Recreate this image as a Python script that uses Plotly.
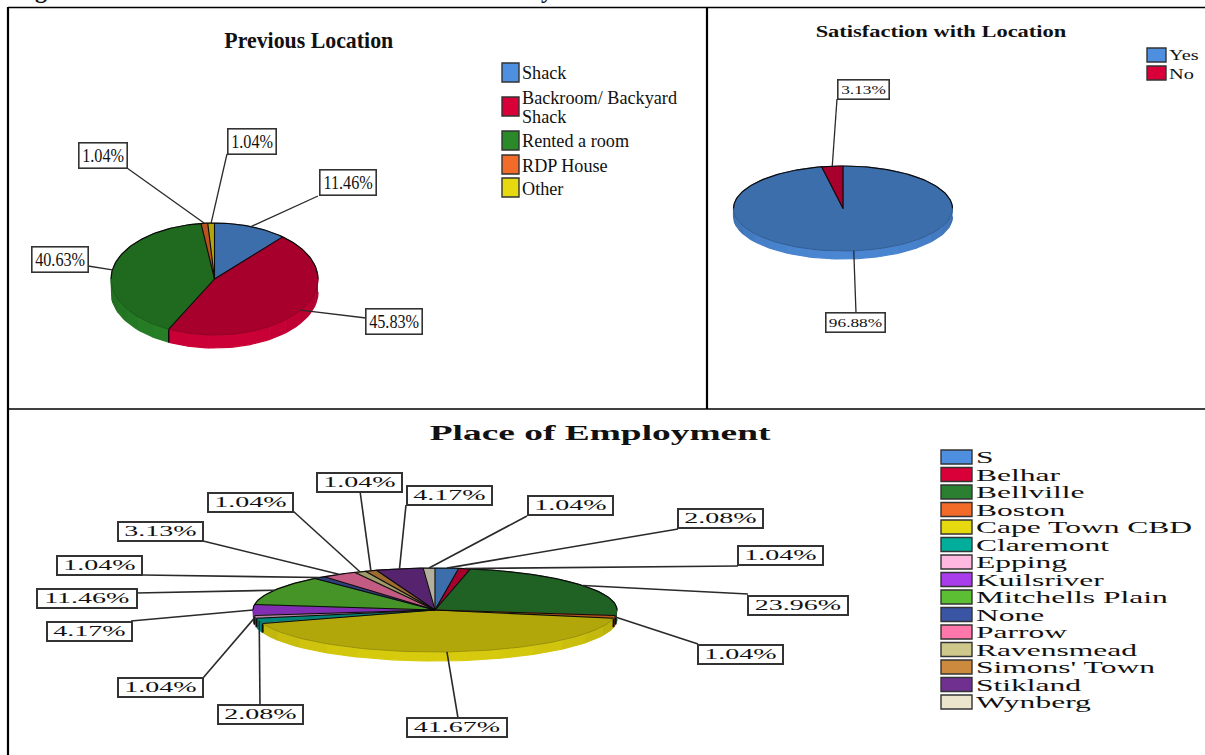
import json
import numpy as np
import plotly.graph_objects as go

# --- survey results -------------------------------------------------------
previous_title = "Previous Location"
previous_names = ["Shack", "Backroom/ Backyard Shack", "Rented a room", "RDP House", "Other"]
previous_values = [11.46, 45.83, 40.63, 1.04, 1.04]
previous_colors = ["#4F8FE0", "#D9003A", "#2A8A2A", "#F26B29", "#E6D90F"]

satisfaction_title = "Satisfaction with Location"
satisfaction_names = ["Yes", "No"]
satisfaction_values = [96.88, 3.13]
satisfaction_colors = ["#4F8FE0", "#D9003A"]

employment_title = "Place of Employment"
employment_names = ["S", "Belhar", "Bellville", "Boston", "Cape Town CBD", "Claremont", "Epping",
                    "Kuilsriver", "Mitchells Plain", "None", "Parrow", "Ravensmead",
                    "Simons' Town", "Stikland", "Wynberg"]
employment_values = [2.08, 1.04, 23.96, 1.04, 41.67, 2.08, 1.04, 4.17, 11.46, 1.04, 3.13,
                     1.04, 1.04, 4.17, 1.04]
employment_colors = ["#4F8FE0", "#D9003A", "#2A8030", "#F26B29", "#E6D90F", "#00AE9B", "#FFB8E0",
                     "#A93DEB", "#5CBF33", "#3B55A5", "#FF77AB", "#CEC98A", "#CC8A3F", "#703090",
                     "#EBE5CE"]

# --- layout of each pie: centre, radii, rim depth ---------------------------
previous_geom = dict(cx=214.5, cy=279, rx=103.5, ry=56, depth=13)
satisfaction_geom = dict(cx=843, cy=208.5, rx=109.5, ry=42.5, depth=8)
employment_geom = dict(cx=435, cy=610, rx=182, ry=42, depth=9)

# label box centres and the point where each leader line meets its box
previous_boxes = [(347.5, 182), (394, 321.5), (60, 259), (102.5, 155.5), (252, 141)]
previous_anchors = [(318, 196), (366, 318), (88, 266), (127, 168), (227, 154)]
satisfaction_boxes = [(855.5, 322.5), (863.5, 89.5)]
satisfaction_anchors = [(856, 313), (837, 99)]
employment_boxes = [(720, 518.5), (780.5, 555), (797.5, 605), (740, 654), (456.5, 727.5),
                    (260, 714), (160, 687.5), (89, 631.5), (86.5, 598), (99.5, 565),
                    (160, 531.5), (250, 502), (359.5, 482), (449.5, 495), (570, 505)]
employment_anchors = [(678, 529), (738, 566), (748, 594), (698, 644), (458, 718), (260, 705),
                      (203, 678), (131, 621), (136, 593), (143, 575), (203, 541), (293, 511),
                      (360, 491), (406, 505), (527, 516)]

fig = go.Figure()
annotations = []
stretches = []


def rgb(hex_color, factor=1.0):
    channels = [int(hex_color[i:i + 2], 16) for i in (1, 3, 5)]
    return "rgb({},{},{})".format(*[min(255, int(c * factor)) for c in channels])


def rim_point(geom, angle, drop=0.0):
    rad = np.radians(angle)
    return geom["cx"] + geom["rx"] * np.sin(rad), geom["cy"] - geom["ry"] * np.cos(rad) + drop


def add_poly(xs, ys, fill, line=None, width=0.6):
    fig.add_trace(go.Scatter(x=xs, y=ys, mode="lines", fill="toself", fillcolor=fill,
                             line=dict(color=line or fill, width=width),
                             hoverinfo="skip", showlegend=False))


def add_line(xs, ys, color="#0c0c0c", width=1.1):
    fig.add_trace(go.Scatter(x=xs, y=ys, mode="lines", line=dict(color=color, width=width),
                             hoverinfo="skip", showlegend=False))


def add_text(x, y, text, size, stretch=1.0, anchor="left", bold=False, **extra):
    annotations.append(dict(
        x=x, y=y, xref="x", yref="y", text=("<b>%s</b>" % text) if bold else text,
        showarrow=False, xanchor=anchor, yanchor=extra.pop("yanchor", "middle"), align=anchor,
        font=dict(family="Liberation Serif", size=size, color="#111111"), **extra))
    stretches.append(stretch)


def draw_pie(values, colors, geom, boxes, anchors, box_widths, box_height, label_size,
             label_stretch, border=1.6, leader=1.3, rim_edge=1.4):
    total = sum(values)
    edges = np.concatenate([[0.0], np.cumsum(values)]) / total * 360.0
    drop = geom["depth"]

    # rim: only the front half of the pie shows, shaded towards the sides
    for value_index, color in enumerate(colors):
        start, end = max(edges[value_index], 90.0), min(edges[value_index + 1], 270.0)
        if end <= start:
            continue
        count = max(1, int(np.ceil((end - start) / 12.0)))
        steps = np.linspace(start, end, count + 1)
        for a0, a1 in zip(steps[:-1], steps[1:]):
            mid = (a0 + a1) / 2.0
            shade = 0.76 + 0.18 * (1.0 - ((mid - 180.0) / 90.0) ** 2)
            arc = np.linspace(a0, a1, 8)
            top = [rim_point(geom, a) for a in arc]
            low = [rim_point(geom, a, drop) for a in arc[::-1]]
            pts = top + low
            add_poly([p[0] for p in pts], [p[1] for p in pts], rgb(color, shade), width=1.2)

    # rim edges between visible slices
    for edge in edges:
        if 90.0 <= edge <= 270.0:
            x0, y0 = rim_point(geom, edge)
            x1, y1 = rim_point(geom, edge, drop)
            add_line([x0, x1], [y0, y1], width=rim_edge)

    # top face
    for value_index, color in enumerate(colors):
        angles = np.linspace(edges[value_index], edges[value_index + 1], 80)
        pts = [rim_point(geom, a) for a in angles]
        xs = [geom["cx"]] + [p[0] for p in pts] + [geom["cx"]]
        ys = [geom["cy"]] + [p[1] for p in pts] + [geom["cy"]]
        add_poly(xs, ys, rgb(color, 0.77), line=rgb(color, 0.62), width=0.8)

    # back half of the outline and the spokes
    back = np.concatenate([np.linspace(270, 360, 60), np.linspace(0, 90, 60)])
    pts = [rim_point(geom, a) for a in back]
    add_line([p[0] for p in pts], [p[1] for p in pts], width=1.2)
    for edge in edges[:-1]:
        x0, y0 = rim_point(geom, edge)
        add_line([geom["cx"], x0], [geom["cy"], y0])

    # leader lines and value boxes
    for value_index, value in enumerate(values):
        mid = (edges[value_index] + edges[value_index + 1]) / 2.0
        x0, y0 = rim_point(geom, mid)
        add_line([x0, anchors[value_index][0]], [y0, anchors[value_index][1]],
                 color="#2a2a2a", width=leader)
        label = "%.2f%%" % value
        add_text(boxes[value_index][0], boxes[value_index][1], label, label_size,
                 stretch=label_stretch, anchor="center", bgcolor="#ffffff",
                 bordercolor="#333333", borderwidth=border, borderpad=0,
                 width=box_widths[len(label) - 5], height=box_height)


def draw_legend(names, colors, rows, swatch_x, swatch_w, swatch_h, text_x, size, stretch):
    for name, color, (top, text_rows) in zip(names, colors, rows):
        fig.add_shape(type="rect", x0=swatch_x, x1=swatch_x + swatch_w, y0=top, y1=top + swatch_h,
                      xref="x", yref="y", fillcolor=rgb(color),
                      line=dict(color="#333333", width=1.4))
        for line_text, line_y in text_rows:
            add_text(text_x, line_y, line_text, size, stretch=stretch)


draw_pie(previous_values, previous_colors, previous_geom, previous_boxes, previous_anchors,
         (47, 55), 24, 18, 0.9)
draw_pie(satisfaction_values, satisfaction_colors, satisfaction_geom, satisfaction_boxes,
         satisfaction_anchors, (50, 58), 18, 13, 1.33)
draw_pie(employment_values, employment_colors, employment_geom, employment_boxes,
         employment_anchors, (83, 98), 17, 14, 2.0, border=2.0, leader=1.6, rim_edge=1.9)

# legends
draw_legend(previous_names, previous_colors,
            [(63, [("Shack", 73)]),
             (97, [("Backroom/ Backyard", 98), ("Shack", 117)]),
             (131, [("Rented a room", 141)]),
             (155, [("RDP House", 166)]),
             (178, [("Other", 189)])],
            502, 17, 19, 520, 18, 1.01)
draw_legend(satisfaction_names, satisfaction_colors,
            [(48, [("Yes", 55)]), (66, [("No", 74)])],
            1147, 19, 14, 1167, 14, 1.45)
draw_legend(employment_names, employment_colors,
            [(450 + 17.5 * i, [(name, 457.5 + 17.5 * i)]) for i, name in enumerate(employment_names)],
            941, 31, 14, 974, 16, 1.97)

# chart titles
add_text(309, 40, previous_title, 24, stretch=0.91, anchor="center", bold=True)
add_text(941, 31, satisfaction_title, 17, stretch=1.32, anchor="center", bold=True)
add_text(600, 433, employment_title, 20, stretch=1.87, anchor="center", bold=True)

# descenders of the heading line above the table, cut off by the page edge
add_text(41, 5, "g", 24, anchor="center", bold=True, yanchor="bottom")
add_text(547, 5, "y", 24, anchor="center", bold=True, yanchor="bottom")

# table rules around the three charts
rules = [(8, 7.5, 1205, 7.5, 1.3), (8, 7, 8, 755, 2.2), (707, 8, 707, 409, 2.2), (8, 409, 1205, 409, 1.3)]
for x0, y0, x1, y1, w in rules:
    fig.add_shape(type="line", x0=x0, y0=y0, x1=x1, y1=y1, xref="x", yref="y",
                  line=dict(color="#000000", width=w))

fig.update_layout(
    width=1205, height=755, margin=dict(l=0, r=0, t=0, b=0),
    paper_bgcolor="#ffffff", plot_bgcolor="#ffffff", showlegend=False,
    xaxis=dict(range=[0, 1205], visible=False, fixedrange=True),
    yaxis=dict(range=[755, 0], visible=False, fixedrange=True),
    annotations=annotations,
)

# the source fonts are drawn wider than any installed face: widen glyphs per annotation
widen_text = """
var factors = %s;
var nodes = document.querySelectorAll('.annotation');
nodes.forEach(function (node) {
  var index = +node.getAttribute('data-index');
  var label = node.querySelector('.annotation-text');
  var factor = factors[index];
  if (!label || !factor || factor === 1) { return; }
  label.setAttribute('lengthAdjust', 'spacingAndGlyphs');
  label.setAttribute('textLength', label.getComputedTextLength() * factor);
});
""" % json.dumps(stretches)

fig.write_html("out.html", post_script=widen_text)
